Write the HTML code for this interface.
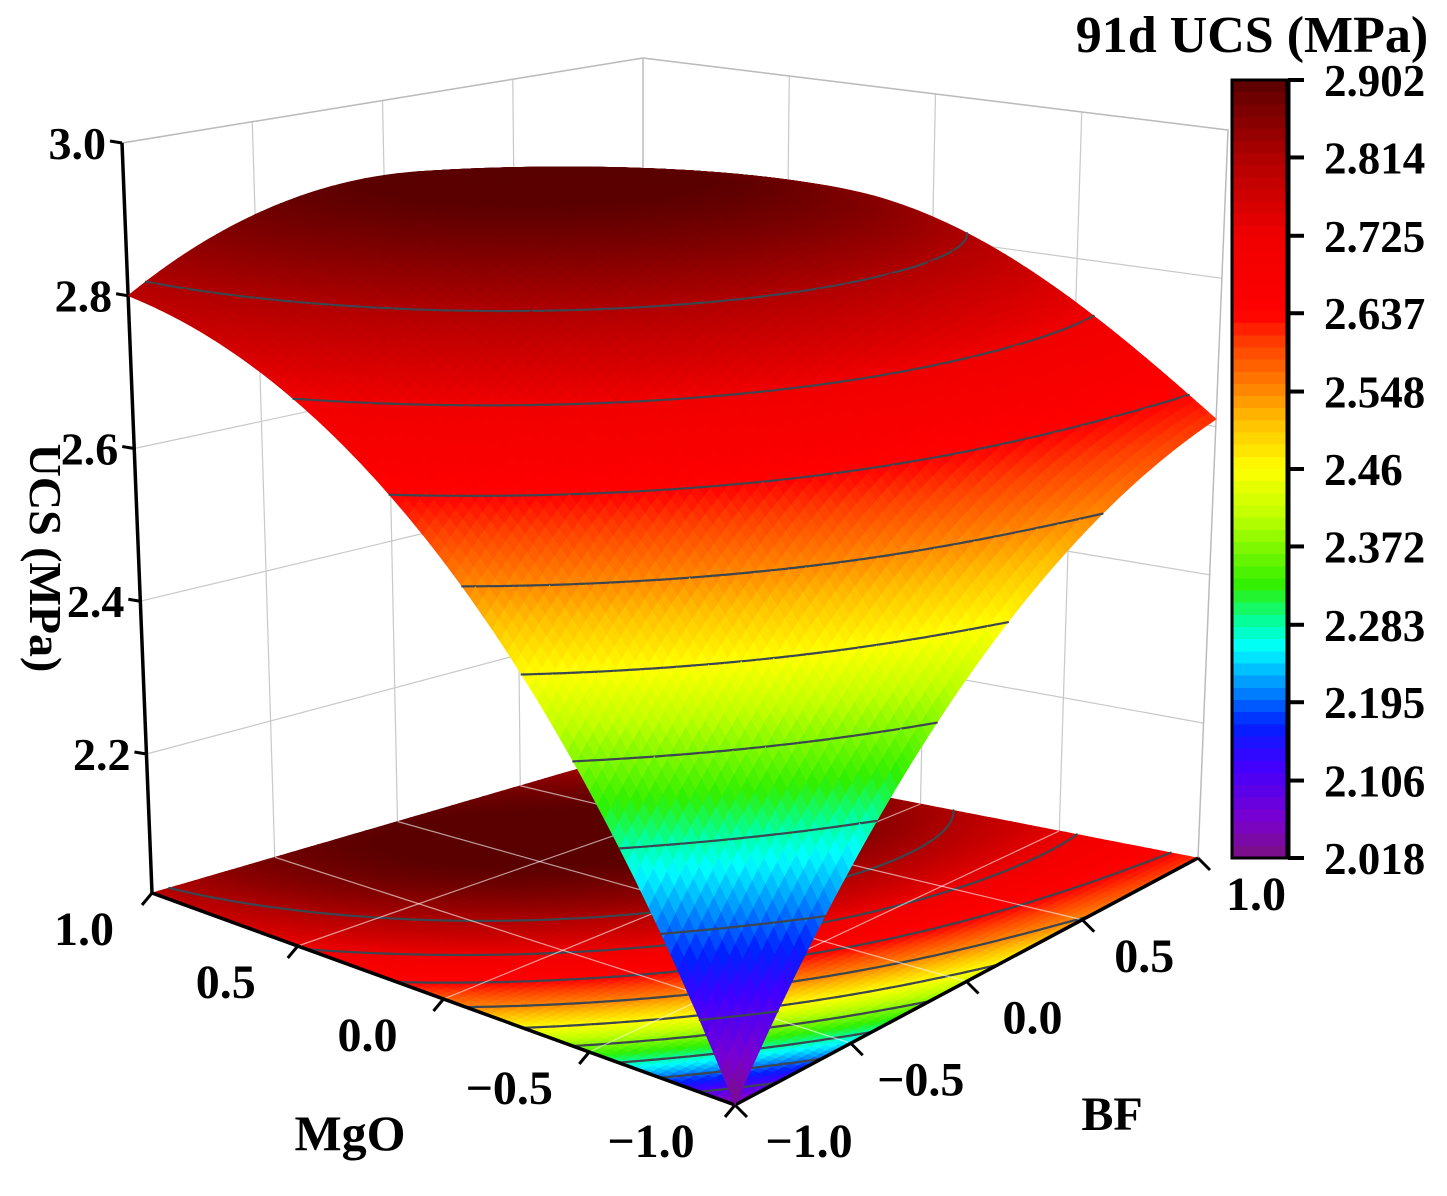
<!DOCTYPE html>
<html><head><meta charset="utf-8">
<style>
html,body{margin:0;padding:0;background:#fff;}
svg{display:block;font-family:"Liberation Serif",serif;font-weight:bold;}
</style></head>
<body>
<svg id="chart" width="1447" height="1196" viewBox="0 0 1447 1196" xmlns="http://www.w3.org/2000/svg">
<g id="walls"></g>
<g id="floor"></g>
<g id="axes"></g>
<g id="surface"></g>
<g id="cbar"></g>
<g id="labels"></g>
</svg>
<script>
// ---- data ----
const mgoLevels = [-1, -0.5, 0, 0.5, 1];
const bfLevels = [-1, -0.5, 0, 0.5, 1];
// ucsValues[i][j] : MgO = mgoLevels[i], BF = bfLevels[j]
const ucsValues = [
  [2.018, 2.247, 2.422, 2.543, 2.610],
  [2.341, 2.532, 2.669, 2.740, 2.740],
  [2.579, 2.732, 2.830, 2.865, 2.830],
  [2.732, 2.846, 2.905, 2.905, 2.850],
  [2.800, 2.876, 2.898, 2.866, 2.780]
];
const colorbarTicks = ["2.018","2.106","2.195","2.283","2.372","2.46","2.548","2.637","2.725","2.814","2.902"];
const zTicks = [2.2, 2.4, 2.6, 2.8, 3.0];
const zTickLabels = ["2.2","2.4","2.6","2.8","3.0"];
const mgoTicks = [1.0, 0.5, 0.0, -0.5, -1.0];
const mgoTickLabels = ["1.0","0.5","0.0","\u22120.5","\u22121.0"];
const bfTicks = [-1.0, -0.5, 0.0, 0.5, 1.0];
const bfTickLabels = ["\u22121.0","\u22120.5","0.0","0.5","1.0"];
const contourLevels = [2.106, 2.195, 2.283, 2.372, 2.46, 2.548, 2.637, 2.725, 2.814];
const cMin = 2.018, cMax = 2.902;
const zMin = 2.018, zMax = 3.0;

// ---- projection (box corners) ----
const NS = "http://www.w3.org/2000/svg";
const botC = {F:[735,1105], L:[152,893], R:[1198,858], B:[643,750]};
const topC = {F:[748,300], L:[122,143], R:[1228,130], B:[643,58]};
function P(m, b, z){
  const u=(m+1)/2, v=(b+1)/2, w=(z-zMin)/(zMax-zMin);
  function bil(c){ return [
    c.F[0]*(1-u)*(1-v)+c.L[0]*u*(1-v)+c.R[0]*(1-u)*v+c.B[0]*u*v,
    c.F[1]*(1-u)*(1-v)+c.L[1]*u*(1-v)+c.R[1]*(1-u)*v+c.B[1]*u*v]; }
  const a=bil(botC), t=bil(topC);
  return [a[0]+(t[0]-a[0])*w, a[1]+(t[1]-a[1])*w];
}
function lag(xs,x,i){let p=1;for(let j=0;j<xs.length;j++){if(j!==i)p*=(x-xs[j])/(xs[i]-xs[j]);}return p;}
function f(m,b){let s=0;for(let i=0;i<mgoLevels.length;i++){const li=lag(mgoLevels,m,i);for(let j=0;j<bfLevels.length;j++){s+=li*lag(bfLevels,b,j)*ucsValues[i][j];}}return s;}

const cstops=[[0,[122,16,128]],[0.05,[122,0,208]],[0.12,[64,0,255]],[0.17,[0,32,255]],[0.22,[0,144,255]],[0.27,[0,255,255]],[0.30,[0,255,170]],[0.35,[48,240,0]],[0.44,[192,255,0]],[0.50,[255,255,0]],[0.56,[255,192,0]],[0.60,[255,136,0]],[0.66,[255,64,0]],[0.70,[255,0,0]],[0.80,[240,0,0]],[0.90,[176,0,0]],[1,[90,0,0]]];
function col(z,q){
  let t=(z-cMin)/(cMax-cMin); t=Math.max(0,Math.min(1,t));
  if(q) t=(Math.min(63,Math.floor(t*64))+0.5)/64;
  for(let k=1;k<cstops.length;k++){ if(t<=cstops[k][0]){const a=cstops[k-1],b=cstops[k];const s=(t-a[0])/(b[0]-a[0]);
    return "rgb("+a[1].map((c,i)=>Math.round(c+(b[1][i]-c)*s)).join(",")+")";}}
  return "rgb(90,0,0)";
}
function el(tag,attrs,parent){const e=document.createElementNS(NS,tag);for(const k in attrs)e.setAttribute(k,attrs[k]);parent.appendChild(e);return e;}
function pts(a){return a.map(p=>p[0].toFixed(1)+","+p[1].toFixed(1)).join(" ");}

// ---- walls ----
const wallsG=document.getElementById('walls');
const wg="#c8c8c8";
for(const z of zTicks){
  const l=el('polyline',{points:pts([P(1,-1,z),P(1,1,z),P(-1,1,z)]),fill:'none',stroke:wg,'stroke-width':1.2},wallsG);
  
  
}
for(const b of bfTicks){ if(Math.abs(b)===1)continue;
  const l=el('line',{x1:P(1,b,zMin)[0],y1:P(1,b,zMin)[1],x2:P(1,b,zMax)[0],y2:P(1,b,zMax)[1],stroke:wg,'stroke-width':1.2},wallsG);
  
  
}
for(const m of mgoTicks){ if(Math.abs(m)===1)continue;
  const l=el('line',{x1:P(m,1,zMin)[0],y1:P(m,1,zMin)[1],x2:P(m,1,zMax)[0],y2:P(m,1,zMax)[1],stroke:wg,'stroke-width':1.2},wallsG);
  
  
}
{const o=el('polyline',{points:pts([P(1,-1,zMax),P(1,1,zMax),P(-1,1,zMax),P(-1,1,zMin)]),fill:'none',stroke:'#bbb','stroke-width':1.5},wallsG);


const o2=el('line',{x1:P(1,1,zMin)[0],y1:P(1,1,zMin)[1],x2:P(1,1,zMax)[0],y2:P(1,1,zMax)[1],stroke:'#bbb','stroke-width':1.5},wallsG);

}

// ---- grid cells ----
const N=80;
const grid=[];
for(let i=0;i<=N;i++){grid.push([]);for(let j=0;j<=N;j++){const m=-1+2*i/N,b=-1+2*j/N;grid[i].push(f(m,b));}}
function cellLines(i,j,zfn,parent,name){
  const m0=-1+2*i/N,m1=-1+2*(i+1)/N,b0=-1+2*j/N,b1=-1+2*(j+1)/N;
  const c=[[m0,b0,grid[i][j]],[m1,b0,grid[i+1][j]],[m1,b1,grid[i+1][j+1]],[m0,b1,grid[i][j+1]]];
  for(const lv of contourLevels){
    const cr=[];
    for(let k=0;k<4;k++){const a=c[k],d=c[(k+1)%4];
      if((a[2]-lv)*(d[2]-lv)<0){const s=(lv-a[2])/(d[2]-a[2]);cr.push([a[0]+(d[0]-a[0])*s,a[1]+(d[1]-a[1])*s]);}}
    for(let k=0;k+1<cr.length;k+=2){
      const p1=P(cr[k][0],cr[k][1],zfn(lv)),p2=P(cr[k+1][0],cr[k+1][1],zfn(lv));
      const l=el('line',{x1:p1[0].toFixed(1),y1:p1[1].toFixed(1),x2:p2[0].toFixed(1),y2:p2[1].toFixed(1),stroke:'#3c4650','stroke-width':2.2,'stroke-linecap':'round'},parent);
      
      
    }
  }
}
// floor
const floorG=document.getElementById('floor');
for(let i=0;i<N;i++)for(let j=0;j<N;j++){
  const m0=-1+2*i/N,m1=-1+2*(i+1)/N,b0=-1+2*j/N,b1=-1+2*(j+1)/N;
  const zc=(grid[i][j]+grid[i+1][j]+grid[i][j+1]+grid[i+1][j+1])/4;
  const c=col(zc,false);
  const p=el('polygon',{points:pts([P(m0,b0,zMin),P(m1,b0,zMin),P(m1,b1,zMin),P(m0,b1,zMin)]),fill:c,stroke:c,'stroke-width':0.7},floorG);
  
  
}
for(let i=0;i<N;i++)for(let j=0;j<N;j++)cellLines(i,j,()=>zMin,floorG,'floor-contour-line');
for(const t of [-0.5,0,0.5]){
  let a=P(t,-1,zMin),b=P(t,1,zMin);
  let l=el('line',{x1:a[0],y1:a[1],x2:b[0],y2:b[1],stroke:'#ffffff','stroke-opacity':0.6,'stroke-width':1.2},floorG);
  
  
  a=P(-1,t,zMin);b=P(1,t,zMin);
  l=el('line',{x1:a[0],y1:a[1],x2:b[0],y2:b[1],stroke:'#ffffff','stroke-opacity':0.6,'stroke-width':1.2},floorG);
  
  
}

// ---- axes ----
const axesG=document.getElementById('axes');
function axLine(a,b,name){const l=el('line',{x1:a[0],y1:a[1],x2:b[0],y2:b[1],stroke:'#000','stroke-width':3.5},axesG);}
axLine(P(1,-1,zMin),P(-1,-1,zMin),'mgo-axis-line');
axLine(P(-1,-1,zMin),P(-1,1,zMin),'bf-axis-line');
axLine(P(1,-1,zMin),P(1,-1,zMax),'z-axis-line');
const labelsG=document.getElementById('labels');
function txt(s,x,y,size,name,anchor,extra){const t=el('text',Object.assign({x:x,y:y,'font-size':size,'text-anchor':anchor||'middle',fill:'#000'},extra||{}),labelsG);t.textContent=s;return t;}
mgoTicks.forEach((m,k)=>{
  const a=P(m,-1,zMin);
  const l=el('line',{x1:a[0],y1:a[1],x2:a[0]-10,y2:a[1]+12,stroke:'#000','stroke-width':3},axesG);
  
  
  txt(mgoTickLabels[k],a[0]-68-k*4,a[1]+52,48,'mgo-tick-label','middle');
});
bfTicks.forEach((b,k)=>{
  const a=P(-1,b,zMin);
  const l=el('line',{x1:a[0],y1:a[1],x2:a[0]+12,y2:a[1]+12,stroke:'#000','stroke-width':3},axesG);
  
  
  txt(bfTickLabels[k],a[0]+74-k*4,a[1]+52,48,'bf-tick-label','middle');
});
zTicks.forEach((z,k)=>{
  const a=P(1,-1,z);
  const l=el('line',{x1:a[0],y1:a[1],x2:a[0]-12,y2:a[1]-2,stroke:'#000','stroke-width':3},axesG);
  
  
  txt(zTickLabels[k],a[0]-16,a[1]+16,46,'z-tick-label','end');
});
txt('MgO',350,1150,50,'mgo-axis-title','middle');
txt('BF',1112,1130,48,'bf-axis-title','middle');
txt('UCS (MPa)',0,0,46,'z-axis-title','middle',{transform:'translate(30,558) rotate(90)'});

// ---- surface ----
const surfG=document.getElementById('surface');
const cells=[];
for(let i=0;i<N;i++)for(let j=0;j<N;j++)cells.push([i,j]);
cells.sort((a,b)=>(b[0]+b[1])-(a[0]+a[1]));
for(const [i,j] of cells){
  const m0=-1+2*i/N,m1=-1+2*(i+1)/N,b0=-1+2*j/N,b1=-1+2*(j+1)/N;
  const zc=(grid[i][j]+grid[i+1][j]+grid[i][j+1]+grid[i+1][j+1])/4;
  const c=col(zc,false);
  const p=el('polygon',{points:pts([P(m0,b0,grid[i][j]),P(m1,b0,grid[i+1][j]),P(m1,b1,grid[i+1][j+1]),P(m0,b1,grid[i][j+1])]),fill:c,stroke:c,'stroke-width':0.8},surfG);
  
  
  cellLines(i,j,(lv)=>lv,surfG,'surface-contour-line');
}

// ---- colorbar ----
const cbG=document.getElementById('cbar');
const defsE=el('defs',{},cbG);
const lgE=el('linearGradient',{id:'cbg',x1:0,y1:1,x2:0,y2:0},defsE);
for(let k=0;k<64;k++){
  const z=cMin+(k+0.5)/64*(cMax-cMin);
  el('stop',{offset:(k/64).toFixed(4),'stop-color':col(z,true)},lgE);
  el('stop',{offset:((k+1)/64).toFixed(4),'stop-color':col(z,true)},lgE);
}
const cbX=1232,cbY=80,cbW=56,cbH=778;
const cbRect=el('rect',{x:cbX,y:cbY,width:cbW,height:cbH,fill:'url(#cbg)',stroke:'#000','stroke-width':3},cbG);


el('line',{x1:cbX+cbW,y1:cbY,x2:cbX+cbW,y2:cbY+cbH,stroke:'#000','stroke-width':5},cbG);
colorbarTicks.forEach((s,k)=>{
  const v=parseFloat(s);
  const y=cbY+cbH-(v-cMin)/(cMax-cMin)*cbH;
  const l=el('line',{x1:cbX+cbW,y1:y,x2:cbX+cbW+16,y2:y,stroke:'#000','stroke-width':4},cbG);
  
  
  txt(s,cbX+cbW+36,y+16,45,'colorbar-tick-label','start');
});
txt('91d UCS (MPa)',1252,52,52,'colorbar-title','middle');
</script>
</body></html>
